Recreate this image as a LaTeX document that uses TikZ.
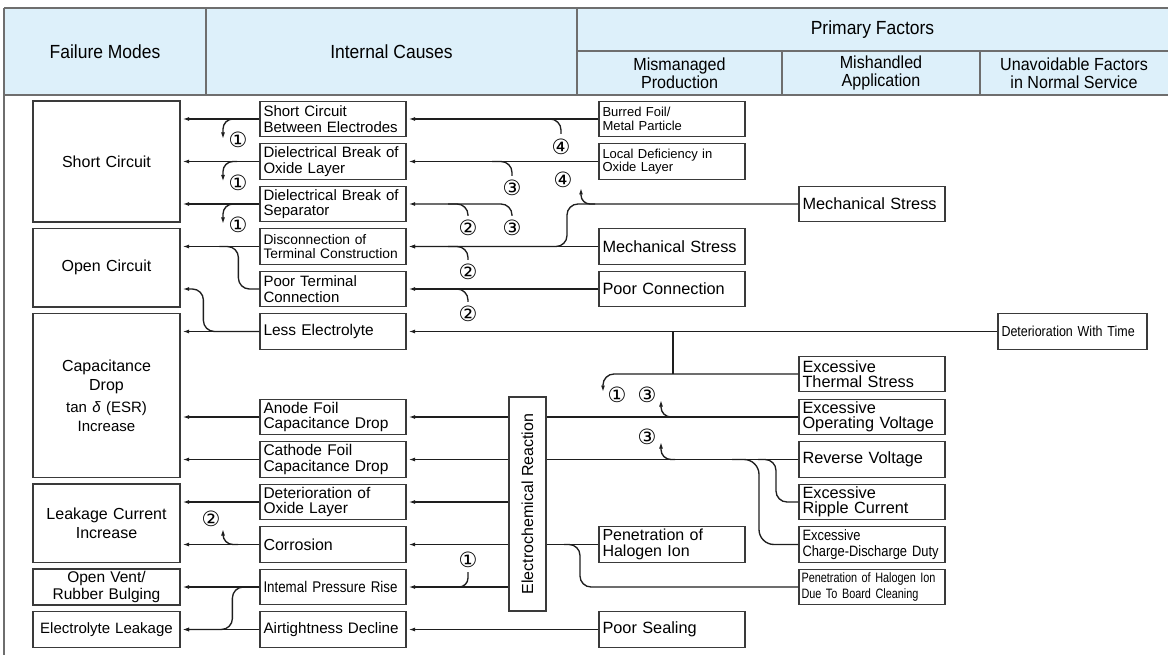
\documentclass[tikz,border=0pt]{standalone}
\usepackage{fontspec}
\setmainfont{Liberation Sans}
\newfontfamily\condfont[FakeStretch=0.86]{Liberation Sans}
\newfontfamily\xcondfont[FakeStretch=0.8]{Liberation Sans}
\newfontfamily\hdfont[FakeStretch=0.92]{Liberation Sans}
\newfontfamily\circfont{DejaVu Sans}
\usetikzlibrary{arrows.meta,calc}
\definecolor{hdr}{HTML}{DDF0FA}
\definecolor{boxc}{HTML}{3A3A3A}
\definecolor{linec}{HTML}{1E1E1E}
\definecolor{tabc}{HTML}{6E6E6E}
\begin{document}
\begin{tikzpicture}[x=1pt,y=-1pt,
  box/.style={draw=boxc, line width=1.2pt, inner ysep=0pt},
  ic/.style={box, minimum width=146, minimum height=35.5, text width=139, inner xsep=3.5, align=left, font=\fontsize{15}{15.5}\selectfont},
  fm/.style={box, minimum width=147, text width=140, inner xsep=3.5, align=center, font=\fontsize{16}{19}\selectfont},
  ln/.style={draw=linec, line width=1.35pt},
  arr/.style={ln, -{Latex[length=6.5pt,width=4pt]}, shorten >=2pt},
  num/.style={font=\circfont\fontsize{21}{21}\selectfont, inner sep=0pt},
  hd/.style={font=\hdfont\fontsize{19}{16}\selectfont, align=center, inner sep=0pt},
  shd/.style={font=\hdfont\fontsize{17.5}{18}\selectfont, align=center, inner sep=0pt},
  rc/.style={rounded corners=11pt},
  tab/.style={draw=tabc, line width=1.3pt}
]
\useasboundingbox (0,0) rectangle (1168,655);
% ---------- header ----------
\fill[hdr] (4,8) rectangle (1168,95);
\draw[tab] (4,8) -- (1168,8);
\draw[tab] (4,95) -- (1168,95);
\draw[tab] (577,51) -- (1168,51);
\draw[tab] (4,8) -- (4,655);
\draw[tab] (206,8) -- (206,95);
\draw[tab] (577,8) -- (577,95);
\draw[tab] (782,51) -- (782,95);
\draw[tab] (980,51) -- (980,95);
\node[hd] (h1) at (105,51.5) {Failure Modes};
\node[hd] (h2) at (391.5,51.5) {Internal Causes};
\node[hd] (h3) at (872.5,29.5) {Primary Factors};
\node[shd] (h4) at (679.5,73) {Mismanaged\\Production};
\node[shd] (h5) at (881,73) {Mishandled\\Application};
\node[shd] (h6) at (1074,73) {Unavoidable Factors\\in Normal Service};
% ---------- failure modes ----------
\node[fm, minimum height=121] (fmSC) at (106.5,161.5) {Short Circuit};
\node[fm, minimum height=78.5] (fmOC) at (106.5,267.75) {Open Circuit};
\node[fm, minimum height=164] (fmCD) at (106.5,395.5) {Capacitance\\Drop\\[3pt]{\fontsize{15}{18}\selectfont tan \textit{δ} (ESR)}\\{\fontsize{15}{18}\selectfont Increase}};
\node[fm, minimum height=78.5] (fmLC) at (106.5,523.25) {Leakage Current\\Increase};
\node[fm, minimum height=36, font=\fontsize{15.5}{16.5}\selectfont] (fmOV) at (106.5,587) {Open Vent/\\Rubber Bulging};
\node[fm, minimum height=36, font=\fontsize{15}{16}\selectfont] (fmEL) at (106.5,629.5) {Electrolyte Leakage};
% ---------- internal causes ----------
\node[ic] (sc) at (333,119) {Short Circuit\\Between Electrodes};
\node[ic] (dox) at (333,161.5) {Dielectrical Break of\\Oxide Layer};
\node[ic] (dsep) at (333,204) {Dielectrical Break of\\Separator};
\node[ic, font=\fontsize{13.8}{14.5}\selectfont] (disc) at (333,246.5) {Disconnection of\\Terminal Construction};
\node[ic] (ptc) at (333,289) {Poor Terminal\\Connection};
\node[ic, font=\fontsize{15.5}{16}\selectfont] (le) at (333,331.5) {Less Electrolyte};
\node[ic, font=\fontsize{15.5}{15.5}\selectfont] (an) at (333,417) {Anode Foil\\Capacitance Drop};
\node[ic, font=\fontsize{15.5}{15.5}\selectfont] (cfd) at (333,459.5) {Cathode Foil\\Capacitance Drop};
\node[ic, font=\fontsize{15.5}{15.5}\selectfont] (deto) at (333,502) {Deterioration of\\Oxide Layer};
\node[ic, font=\fontsize{16}{16}\selectfont] (cor) at (333,544.5) {Corrosion};
\node[ic, font=\condfont\fontsize{15.5}{16}\selectfont] (ipr) at (333,587) {Intemal Pressure Rise};
\node[ic, font=\fontsize{15.2}{16}\selectfont] (ad) at (333,629.5) {Airtightness Decline};
% ---------- electrochemical reaction ----------
\node[box, minimum width=37, minimum height=214] (er) at (527.5,504) {};
\node[rotate=90, font=\fontsize{16}{16}\selectfont, inner sep=0pt] (ertext) at (er.center) {Electrochemical Reaction};
% ---------- mismanaged production ----------
\node[ic, font=\fontsize{13}{13.5}\selectfont] (bf) at (672,119) {Burred Foil/\\Metal Particle};
\node[ic, font=\fontsize{13}{13.5}\selectfont] (lod) at (672,161.5) {Local Deficiency in\\Oxide Layer};
\node[ic, font=\fontsize{16.3}{16}\selectfont] (ms1) at (672,246.5) {Mechanical Stress};
\node[ic, font=\fontsize{16.3}{16}\selectfont] (pc) at (672,289) {Poor Connection};
\node[ic, font=\fontsize{16}{15.5}\selectfont] (phi) at (672,544.5) {Penetration of\\Halogen Ion};
\node[ic, font=\fontsize{16.3}{16}\selectfont] (ps) at (672,629.5) {Poor Sealing};
% ---------- mishandled application ----------
\node[ic, font=\fontsize{16.3}{16}\selectfont] (ms2) at (872,204) {Mechanical Stress};
\node[ic, font=\fontsize{16.3}{15.5}\selectfont] (ets) at (872,374) {Excessive\\Thermal Stress};
\node[ic, font=\fontsize{16.3}{15.5}\selectfont] (eov) at (872,417) {Excessive\\Operating Voltage};
\node[ic, font=\fontsize{16.3}{16}\selectfont] (rv) at (872,459.5) {Reverse Voltage};
\node[ic, font=\fontsize{16.3}{15.5}\selectfont] (erc) at (872,502) {Excessive\\Ripple Current};
\node[ic, font=\condfont\fontsize{15}{15.5}\selectfont] (ecd) at (872,544.5) {Excessive\\Charge-Discharge Duty};
\node[ic, text width=141, inner xsep=2.5, font=\xcondfont\fontsize{13.6}{16}\selectfont] (pbc) at (872,587) {Penetration of Halogen Ion\\Due To Board Cleaning};
% ---------- unavoidable ----------
\node[ic, minimum width=149, text width=142, font=\condfont\fontsize{14.5}{15}\selectfont] (dwt) at (1072.5,331.5) {Deterioration With Time};
% ---------- connectors: internal causes -> failure modes ----------
\draw[arr] (sc.west) -- (sc.west -| fmSC.east);
\draw[arr] (dox.west) -- (dox.west -| fmSC.east);
\draw[arr] (dsep.west) -- (dsep.west -| fmSC.east);
\draw[arr] (disc.west) -- (disc.west -| fmOC.east);
\draw[ln, rc] (ptc.west) -| ($(disc.west)+(-21,0)$) -- ($(disc.west)+(-40,0)$);
\draw[arr] (le.west) -- (le.west -| fmCD.east);
\draw[arr, rc] (le.west) -| ($(ptc.west)+(-56,0)$) -- (ptc.west -| fmOC.east);
\draw[arr] (an.west) -- (an.west -| fmCD.east);
\draw[arr] (cfd.west) -- (cfd.west -| fmCD.east);
\draw[arr] (deto.west) -- (deto.west -| fmLC.east);
\draw[arr] (cor.west) -- (cor.west -| fmLC.east);
\draw[arr] (ipr.west) -- (ipr.west -| fmOV.east);
\draw[arr, rc] (ipr.west) -| ($(ad.west)+(-27,0)$) -- (ad.west -| fmEL.east);
\draw[arr] (ad.west) -- (ad.west -| fmEL.east);
% small branches with circled numbers (left)
\draw[arr, rounded corners=10pt] (237,119) -| (223,141);
\draw[arr, rounded corners=10pt] (237,161.5) -| (223,183.5);
\draw[arr, rounded corners=10pt] (237,204) -| (223,226);
\node[num] (n1a) at (238,140) {①};
\node[num] (n1b) at (238,182.5) {①};
\node[num] (n1c) at (238,225) {①};
\draw[arr, rounded corners=10pt] (238,544.5) -| (223,527);
\node[num] (n2g) at (211,519) {②};
\draw[ln, rounded corners=9pt] (446,587) -| (468,572);
\node[num] (n1d) at (468,560) {①};
% ---------- connectors: primary factors -> internal causes ----------
\draw[arr] (bf.west) -- (sc.east);
\draw[ln, rc] (540,119) -| (561,134);
\node[num] (n4a) at (561,147) {④};
\draw[arr] (lod.west) -- (dox.east);
\draw[ln, rc] (492,161.5) -| (512,176);
\node[num] (n3a) at (512,187.5) {③};
\draw[arr, rc] (512,216) |- (dsep.east);
\draw[ln, rc] (448,204) -| (468,216);
\node[num] (n2a) at (468,228) {②};
\node[num] (n3b) at (512,228) {③};
\draw[arr, rc] (ms2.west) -| (567,246.5) -- (disc.east);
\draw[arr, rounded corners=9pt] (595,204) -| (581,186);
\node[num] (n4b) at (563,180) {④};
\draw[arr] (ms1.west) -- (disc.east);
\draw[ln, rc] (448,246.5) -| (468,260);
\node[num] (n2b) at (468,272) {②};
\draw[arr] (pc.west) -- (ptc.east);
\draw[ln, rc] (448,289) -| (468,302);
\node[num] (n2c) at (468,314) {②};
\draw[arr] (dwt.west) -- (le.east);
\coordinate (jA) at (673,331.5);
\coordinate (jB) at (673,374);
\draw[ln] (jA) -- (jB);
\coordinate (tipT) at (603,394);
\draw[arr, rc] (ets.west) -| (tipT);
\node[num] (n1e) at (617,395) {①};
\node[num] (n3c) at (647,395) {③};
\draw[ln] (eov.west) -- (eov.west -| er.east);
\draw[arr, rounded corners=10pt] (675,417) -| (661,398);
\draw[ln] (rv.west) -- (rv.west -| er.east);
\draw[arr, rounded corners=10pt] (675,459.5) -| (661,440);
\node[num] (n3d) at (647,437) {③};
\draw[ln, rc] (erc.west) -| (776,459.5) -- (758,459.5);
\draw[ln, rounded corners=15pt] (ecd.west) -| (759,459.5) -- (732,459.5);
\draw[ln] (phi.west) -- (phi.west -| er.east);
\draw[ln, rc] (pbc.west) -| (580,544.5) -- (564,544.5);
% electrochemical reaction -> internal causes
\draw[arr] (an.east -| er.west) -- (an.east);
\draw[arr] (cfd.east -| er.west) -- (cfd.east);
\draw[arr] (deto.east -| er.west) -- (deto.east);
\draw[arr] (cor.east -| er.west) -- (cor.east);
\draw[arr] (ipr.east -| er.west) -- (ipr.east);
\draw[arr] (ps.west) -- (ad.east);
\end{tikzpicture}
\end{document}
